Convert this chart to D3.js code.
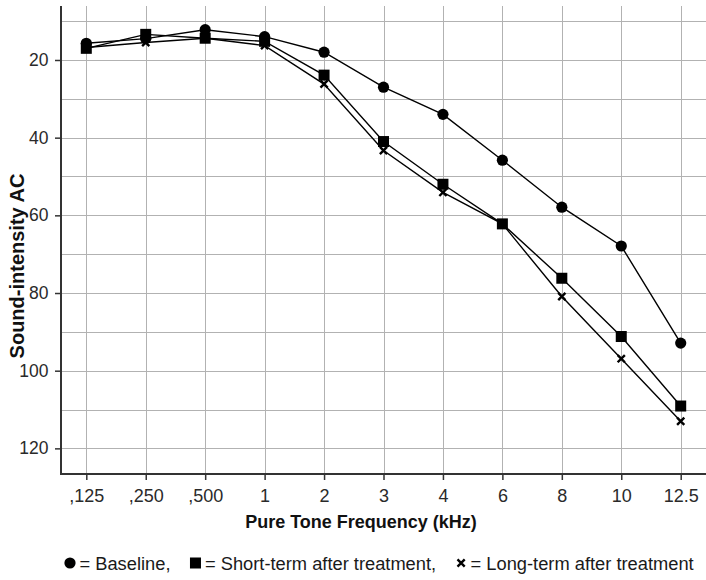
<!DOCTYPE html>
<html>
<head>
<meta charset="utf-8">
<script src="https://cdn.jsdelivr.net/npm/d3@7"></script>
<style>
  html, body { margin: 0; padding: 0; background: #fff; }
  svg { display: block; }
</style>
</head>
<body>
<svg id="chart" width="706" height="580"></svg>
<script>
// Pure-tone audiometry: hearing thresholds at each test frequency
const frequencies = [",125", ",250", ",500", "1", "2", "3", "4", "6", "8", "10", "12.5"];
const baseline  = [15.7, 14.5, 12.2, 14.0, 18.0, 27.0, 34.0, 45.8, 57.9, 67.9, 92.9];
const shortTerm = [17.0, 13.4, 14.4, 15.2, 23.9, 41.0, 52.0, 62.2, 76.2, 91.2, 109.1];
const longTerm  = [16.8, 15.5, 14.4, 16.3, 26.2, 43.3, 54.1, 62.2, 80.9, 96.9, 113.0];
const yTicks = [20, 40, 60, 80, 100, 120];
const yGrid = [10, 20, 30, 40, 50, 60, 70, 80, 90, 100, 110, 120];

const seriesList = [
  { name: "Baseline", values: baseline, symbol: "circle" },
  { name: "Short-term after treatment", values: shortTerm, symbol: "square" },
  { name: "Long-term after treatment", values: longTerm, symbol: "cross" }
];

const plot = { left: 61, right: 706, top: 6, bottom: 474 };
const FONT = "'Liberation Sans', Arial, sans-serif";

const svg = d3.select("#chart");

const x = d3.scalePoint()
  .domain(frequencies)
  .range([plot.left, plot.right])
  .padding(0.4256);

const y = d3.scaleLinear()
  .domain([6.1, 126.6])
  .range([plot.top, plot.bottom]);

// grid
const grid = svg.append("g").attr("class", "grid")
  .attr("stroke", "#b2b2b2").attr("stroke-width", 1).attr("shape-rendering", "crispEdges");
grid.selectAll("line.h").data(yGrid).join("line")
  .attr("class", "h")
  .attr("x1", plot.left).attr("x2", plot.right)
  .attr("y1", d => Math.round(y(d)) + 0.5).attr("y2", d => Math.round(y(d)) + 0.5);
grid.selectAll("line.v").data(frequencies).join("line")
  .attr("class", "v")
  .attr("y1", plot.top).attr("y2", plot.bottom)
  .attr("x1", d => Math.round(x(d)) + 0.5).attr("x2", d => Math.round(x(d)) + 0.5);

// axes
const yAxis = svg.append("g")
  .attr("transform", `translate(${plot.left},0)`)
  .call(d3.axisLeft(y).tickValues(yTicks).tickSize(6).tickPadding(6.5).tickSizeOuter(0));
const xAxis = svg.append("g")
  .attr("transform", `translate(0,${plot.bottom})`)
  .call(d3.axisBottom(x).tickSize(6).tickPadding(9).tickSizeOuter(0));

[xAxis, yAxis].forEach(a => {
  a.select(".domain").attr("stroke", "#333").attr("stroke-width", 2);
  a.selectAll(".tick line").attr("stroke", "#333").attr("stroke-width", 1.5);
  a.selectAll(".tick text").attr("fill", "#2a2a2a")
    .style("font-family", FONT);
});
yAxis.selectAll(".tick text").style("font-size", "17.5px");
xAxis.selectAll(".tick text").style("font-size", "18px");
// axis lines span the full plot frame
xAxis.select(".domain").attr("d", `M${plot.left - 1},0H${plot.right}`);
yAxis.select(".domain").attr("d", `M0,${plot.top}V${plot.bottom + 1}`);

// lines
const line = d3.line()
  .x((d, i) => x(frequencies[i]))
  .y(d => y(d));

const marks = svg.append("g");
seriesList.forEach(s => {
  marks.append("path")
    .datum(s.values)
    .attr("fill", "none")
    .attr("stroke", "#000")
    .attr("stroke-width", 1.4)
    .attr("d", line);
});

function drawSymbol(g, kind, cx, cy) {
  if (kind === "circle") {
    g.append("circle").attr("cx", cx).attr("cy", cy).attr("r", 5.6).attr("fill", "#000");
  } else if (kind === "square") {
    g.append("rect").attr("x", cx - 5.5).attr("y", cy - 5.5)
      .attr("width", 11).attr("height", 11).attr("fill", "#000");
  } else {
    const r = 3.6;
    g.append("path")
      .attr("d", `M${cx - r},${cy - r}L${cx + r},${cy + r}M${cx - r},${cy + r}L${cx + r},${cy - r}`)
      .attr("stroke", "#000").attr("stroke-width", 2.4).attr("fill", "none");
  }
}

seriesList.forEach(s => {
  const g = marks.append("g");
  s.values.forEach((v, i) => drawSymbol(g, s.symbol, x(frequencies[i]), y(v)));
});

// axis titles
svg.append("text")
  .attr("x", 361).attr("y", 528)
  .attr("text-anchor", "middle")
  .style("font-family", FONT).style("font-weight", "bold").style("font-size", "18px")
  .attr("fill", "#111")
  .text("Pure Tone Frequency (kHz)");

svg.append("text")
  .attr("transform", "translate(23.5,266) rotate(-90)")
  .attr("text-anchor", "middle")
  .style("font-family", FONT).style("font-weight", "bold").style("font-size", "20px")
  .attr("fill", "#111")
  .text("Sound-intensity AC");

// legend: symbol followed by "= name"
const legend = svg.append("g");
let lx = 70;
const ly = 563;
seriesList.forEach((s, i) => {
  drawSymbol(legend, s.symbol, lx, ly);
  const t = legend.append("text")
    .attr("x", lx + 9.5).attr("y", ly + 6.5)
    .style("font-family", FONT).style("font-size", "18.3px")
    .attr("fill", "#1a1a1a")
    .text("= " + s.name + (i < seriesList.length - 1 ? "," : ""));
  lx += 9.5 + t.node().getComputedTextLength() + 25;
});
</script>
</body>
</html>
